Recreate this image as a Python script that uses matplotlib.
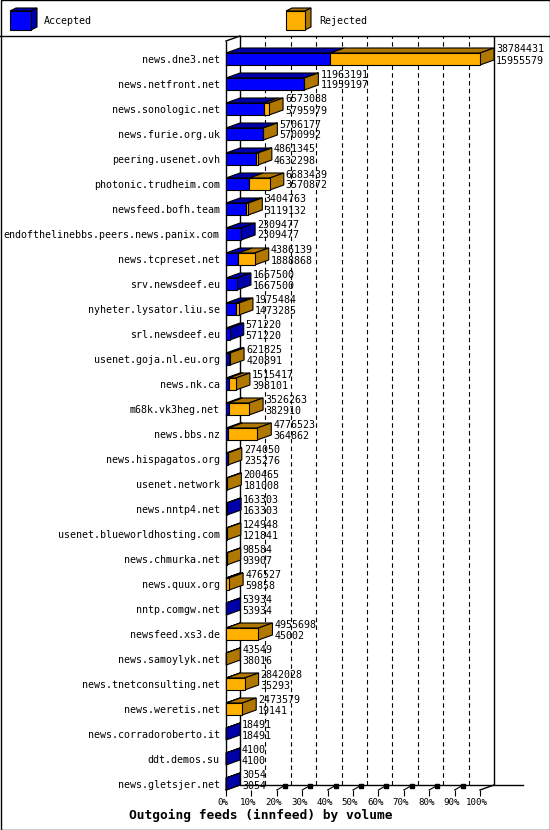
import matplotlib
matplotlib.use("Agg")
import matplotlib.pyplot as plt
from matplotlib.patches import Polygon, Rectangle
from matplotlib.lines import Line2D
import matplotlib.transforms as mtransforms

# ---------------- data ----------------
hosts = [
    "news.dne3.net", "news.netfront.net", "news.sonologic.net", "news.furie.org.uk",
    "peering.usenet.ovh", "photonic.trudheim.com", "newsfeed.bofh.team",
    "endofthelinebbs.peers.news.panix.com", "news.tcpreset.net", "srv.newsdeef.eu",
    "nyheter.lysator.liu.se", "srl.newsdeef.eu", "usenet.goja.nl.eu.org", "news.nk.ca",
    "m68k.vk3heg.net", "news.bbs.nz", "news.hispagatos.org", "usenet.network",
    "news.nntp4.net", "usenet.blueworldhosting.com", "news.chmurka.net", "news.quux.org",
    "nntp.comgw.net", "newsfeed.xs3.de", "news.samoylyk.net", "news.tnetconsulting.net",
    "news.weretis.net", "news.corradoroberto.it", "ddt.demos.su", "news.gletsjer.net",
]
offered = [
    38784431, 11963191, 6573088, 5706177, 4861345, 6683439, 3404763, 2309477,
    4386139, 1667500, 1975484, 571220, 621825, 1515417, 3526263, 4776523,
    274050, 200465, 163303, 124948, 98584, 476527, 53934, 4955698,
    43549, 2842028, 2473579, 18491, 4100, 3054,
]
accepted = [
    15955579, 11959197, 5795979, 5700992, 4632298, 3570872, 3119132, 2309477,
    1888868, 1667500, 1473285, 571220, 420891, 398101, 382910, 364862,
    235276, 181008, 163303, 121841, 93907, 59858, 53934, 45002,
    38016, 35293, 19141, 18491, 4100, 3054,
]
tick_pct = [0, 10, 20, 30, 40, 50, 60, 70, 80, 90, 100]
tick_labels = [f"{p}%" for p in tick_pct]
legend_labels = ["Accepted", "Rejected"]
title = "Outgoing feeds (innfeed) by volume"

# ---------------- style ----------------
BLUE = "#0000FF"
DBLUE = "#0000AA"
ORANGE = "#FFB000"
DGOLD = "#B07800"
MONO = "DejaVu Sans Mono"
plt.rcParams["font.family"] = MONO
FS = 7.2

W, H = 550, 830
fig = plt.figure(figsize=(W / 100, H / 100), dpi=100)
fig.patch.set_facecolor("white")

# overlay in pixel space for frame and legend
ov = fig.add_axes([0, 0, 1, 1], zorder=-1)
ov.set_xlim(0, W)
ov.set_ylim(H, 0)
ov.axis("off")
ov.add_patch(Rectangle((0.5, 0.5), W - 1, H - 1, fill=False, ec="black", lw=1))
ov.add_line(Line2D([0, W], [36, 36], color="black", lw=1))

def cube(x0, x1, y0, y1, d, front, dark):
    ov.add_patch(Polygon([(x0, y0), (x0 + d, y0 - 3), (x1 + d, y0 - 3), (x1, y0)],
                         closed=True, fc=dark, ec="black", lw=0.8))
    ov.add_patch(Polygon([(x1, y0), (x1 + d, y0 - 3), (x1 + d, y1 - 3), (x1, y1)],
                         closed=True, fc=dark, ec="black", lw=0.8))
    ov.add_patch(Rectangle((x0, y0), x1 - x0, y1 - y0, fc=front, ec="black", lw=0.8))

cube(10, 31, 11, 30, 6, BLUE, DBLUE)
ov.text(44, 21, legend_labels[0], fontsize=FS, va="center", ha="left")
cube(286, 305, 11, 30, 6, ORANGE, DGOLD)
ov.text(319, 21, legend_labels[1], fontsize=FS, va="center", ha="left")
ov.text(261, 815, title, fontsize=9.3, fontweight="bold", va="center", ha="center")

# ---------------- main plot ----------------
x0px, x1px = 226, 480
top_px, bot_px = 36, 790
first_px, row_px = 59, 25
ax = fig.add_axes([x0px / W, 1 - bot_px / H, (x1px - x0px) / W, (bot_px - top_px) / H])
ax.patch.set_visible(False)
for sp in ax.spines.values():
    sp.set_visible(False)

n = len(hosts)
xmax = max(offered)
ytop = (top_px - first_px) / row_px
ybot = (bot_px - first_px) / row_px
ax.set_xlim(0, xmax)
ax.set_ylim(ybot, ytop)

xpp = xmax / (x1px - x0px)
ypp = 1 / row_px
DX = 14 * xpp
DY = -5 * ypp
HH = 6 * ypp
yback = ybot + DY

# back walls, grid
grid_x = [p / 100 * xmax + DX for p in tick_pct[1:-1]]
ax.vlines(grid_x, yback, ytop, colors="black", lw=0.8, linestyles=(0, (4, 3)),
          zorder=1, clip_on=False)
ax.vlines([DX, xmax + DX], yback, ytop, colors="black", lw=1, zorder=1, clip_on=False)
ax.vlines([0], ybot, ytop + 5 * ypp, colors="black", lw=1, zorder=1, clip_on=False)
ax.plot([0, DX], [ytop + 5 * ypp, ytop], color="black", lw=1, zorder=1, clip_on=False)
# floor
ax.plot([DX, (523 - x0px) * xpp], [yback, yback], color="black", lw=1, zorder=1, clip_on=False)
ax.plot([0, DX], [ybot, yback], color="black", lw=1, zorder=1, clip_on=False)
ax.plot([xmax, xmax + DX], [ybot, yback], color="black", lw=1, zorder=1, clip_on=False)
for p in tick_pct[2:-1]:
    tx = p / 100 * xmax
    ax.plot([tx, tx + 7 * xpp], [ybot, ybot - 4 * ypp], color="black", lw=0.8,
            zorder=1, clip_on=False)
    ax.plot([tx + 8 * xpp], [ybot - 4.5 * ypp], marker="s", ms=2.2, color="black",
            zorder=1, clip_on=False)

# bars
for i in range(n):
    acc = accepted[i]
    tot = offered[i]
    rej = tot - acc
    yt = i - HH
    yb = i + HH
    # top faces
    ax.add_patch(Polygon([(0, yt), (acc, yt), (acc + DX, yt + DY), (DX, yt + DY)],
                         closed=True, fc=DBLUE, ec="black", lw=0.8, zorder=3, clip_on=False))
    if rej > 0:
        ax.add_patch(Polygon([(acc, yt), (tot, yt), (tot + DX, yt + DY), (acc + DX, yt + DY)],
                             closed=True, fc=DGOLD, ec="black", lw=0.8, zorder=3, clip_on=False))
    # side face
    side_c = DGOLD if rej > 0 else DBLUE
    ax.add_patch(Polygon([(tot, yt), (tot + DX, yt + DY), (tot + DX, yb + DY), (tot, yb)],
                         closed=True, fc=side_c, ec="black", lw=0.8, zorder=3, clip_on=False))
    # front faces
    b1 = ax.barh(i, acc, height=2 * HH, left=0, color=BLUE, edgecolor="black",
                 lw=0.8, zorder=4)
    for r in b1:
        r.set_clip_on(False)
    if rej > 0:
        b2 = ax.barh(i, rej, height=2 * HH, left=acc, color=ORANGE, edgecolor="black",
                     lw=0.8, zorder=4)
        for r in b2:
            r.set_clip_on(False)
    # value labels
    lx = tot + DX + 2 * xpp
    ax.text(lx, i - 9.5 * ypp, str(tot), fontsize=FS, va="center", ha="left",
            zorder=5, clip_on=False)
    ax.text(lx, i + 1.5 * ypp, str(acc), fontsize=FS, va="center", ha="left",
            zorder=5, clip_on=False)

# axes ticks
ax.set_yticks(range(n))
ax.set_yticklabels(hosts, fontsize=FS)
ax.tick_params(axis="y", length=0, pad=4.5)
ax.set_xticks([p / 100 * xmax for p in tick_pct])
ax.set_xticklabels(tick_labels, fontsize=6.6)
ax.tick_params(axis="x", length=4, width=0.8, pad=2, direction="out")
shift = mtransforms.ScaledTranslation(-3 / 100, 0, fig.dpi_scale_trans)
for lab in ax.get_xticklabels():
    lab.set_transform(lab.get_transform() + shift)

fig.savefig("out.png", dpi=100)
